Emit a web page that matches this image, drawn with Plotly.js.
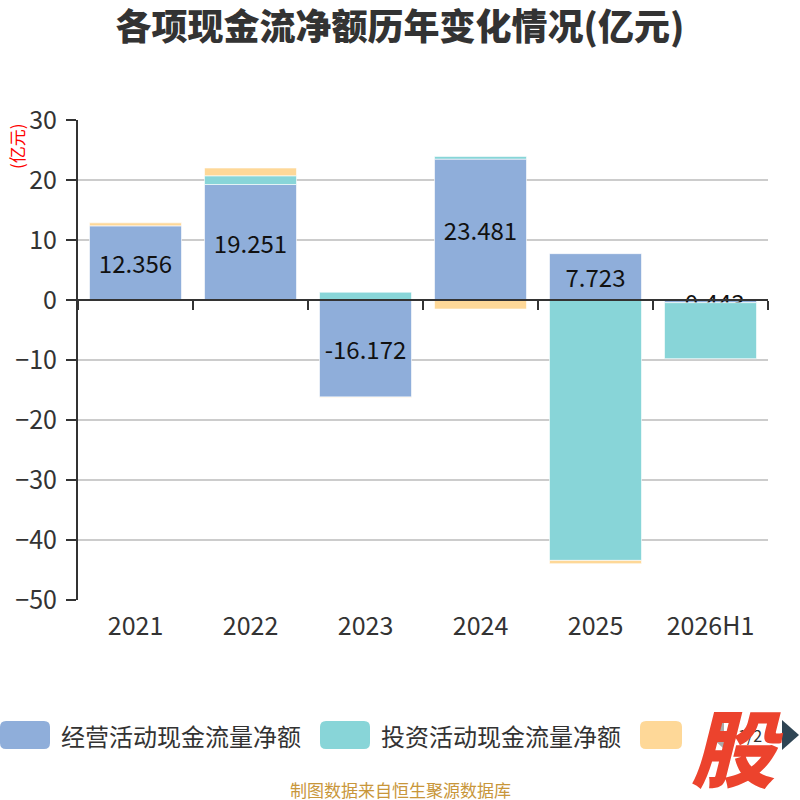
<!DOCTYPE html>
<html>
<head>
<meta charset="utf-8">
<script src="https://cdn.plot.ly/plotly-3.0.1.min.js"></script>
<style>
  html, body { margin: 0; padding: 0; background: #fff; }
  #plt { width: 800px; height: 800px; }
</style>
</head>
<body>
<div id="plt"></div>
<script>
var years = ['2021', '2022', '2023', '2024', '2025', '2026H1'];
var operating = [12.356, 19.251, -16.172, 23.481, 7.723, -0.443];
var investing = [-0.15, 1.45, 1.3, 0.45, -43.4, -9.34];
var financing = [0.5, 1.3, -0.08, -1.5, -0.55, 0];
var names = ['经营活动现金流量净额', '投资活动现金流量净额', '筹资活动现金流量净额'];
var colors = ['#8FAEDA', '#88D5D8', '#FED898'];
var yTicks = [-50, -40, -30, -20, -10, 0, 10, 20, 30];

var font = '"Noto Sans CJK SC", "Noto Sans", sans-serif';

// plot area in pixels, used to place the hand made legend
var L = 78, R = 768, T = 120, B = 600;
function px(x){ return (x - L) / (R - L); }
function py(y){ return (B - y) / (B - T); }

function round_rect(x0, y0, x1, y1, r){
    var p = function(x, y){ return px(x) + ',' + py(y); };
    return 'M' + p(x0 + r, y0) + ' L' + p(x1 - r, y0) +
        ' Q' + p(x1, y0) + ' ' + p(x1, y0 + r) +
        ' L' + p(x1, y1 - r) + ' Q' + p(x1, y1) + ' ' + p(x1 - r, y1) +
        ' L' + p(x0 + r, y1) + ' Q' + p(x0, y1) + ' ' + p(x0, y1 - r) +
        ' L' + p(x0, y0 + r) + ' Q' + p(x0, y0) + ' ' + p(x0 + r, y0) + ' Z';
}

function bar(vals, i, withText){
    var t = {
        type: 'bar',
        name: names[i],
        x: years,
        y: vals,
        xaxis: 'x',
        yaxis: 'y',
        marker: { color: colors[i], line: { width: 1, color: 'rgba(255,255,255,0.6)' } },
        hoverinfo: 'x+y+name',
        showlegend: false
    };
    if (withText){
        t.text = vals.map(v => v.toFixed(3));
        t.textposition = 'inside';
        t.insidetextanchor = 'middle';
        t.constraintext = 'none';
        t.textangle = 0;
        t.textfont = { family: font, size: 24, color: '#111' };
    }
    return t;
}

var traces = [
    bar(operating, 0, true),
    bar(investing, 1, false),
    bar(financing, 2, false),
    // carries the category labels for the bottom axis
    { type: 'scatter', mode: 'markers', x: years, y: years.map(_ => null),
      xaxis: 'x2', yaxis: 'y', hoverinfo: 'skip', showlegend: false }
];

var shapes = [];
var annotations = [];

// legend
var legendX = [0, 320, 640];
legendX.forEach((x, i) => {
    shapes.push({
        type: 'path', xref: 'paper', yref: 'paper',
        path: round_rect(x, 721, i == 2 ? 682 : x + 50, 749, 6),
        fillcolor: colors[i], line: { width: 0 }
    });
    if (i < 2){
        annotations.push({
            xref: 'paper', yref: 'paper', x: px(x + 59), y: py(735),
            xanchor: 'left', yanchor: 'middle', showarrow: false,
            text: names[i], font: { family: font, size: 24, color: '#333' }
        });
    }
});
// legend page controls
shapes.push({
    type: 'path', xref: 'paper', yref: 'paper',
    path: 'M' + px(724) + ',' + py(721) + ' L' + px(724) + ',' + py(749) +
        ' L' + px(709) + ',' + py(735) + ' Z',
    fillcolor: '#aaa', line: { width: 0 }
});
shapes.push({
    type: 'path', xref: 'paper', yref: 'paper',
    path: 'M' + px(782) + ',' + py(720) + ' L' + px(782) + ',' + py(750) +
        ' L' + px(799) + ',' + py(735) + ' Z',
    fillcolor: '#2f4554', line: { width: 0 }
});
annotations.push({
    xref: 'paper', yref: 'paper', x: px(750), y: py(735),
    xanchor: 'center', yanchor: 'middle', showarrow: false,
    text: '1/2', font: { family: font, size: 16, color: '#333' }
});

// watermark
annotations.push({
    xref: 'paper', yref: 'paper', x: px(737), y: py(744),
    xanchor: 'center', yanchor: 'middle', showarrow: false,
    text: '股', font: { family: font, size: 84, color: '#EC432D', weight: 900, style: 'italic' }
});

// unit label
annotations.push({
    xref: 'paper', yref: 'paper', x: px(16), y: py(146),
    xanchor: 'center', yanchor: 'middle', showarrow: false, textangle: -90,
    text: '(亿元)', font: { family: font, size: 17, color: '#ff0000' }
});

// source
annotations.push({
    xref: 'paper', yref: 'paper', x: px(400), y: py(789),
    xanchor: 'center', yanchor: 'middle', showarrow: false,
    text: '制图数据来自恒生聚源数据库', font: { family: font, size: 17, color: '#C8963A' }
});

var layout = {
    width: 800,
    height: 800,
    margin: { l: L, r: 800 - R, t: T, b: 800 - B },
    paper_bgcolor: '#fff',
    plot_bgcolor: '#fff',
    barmode: 'relative',
    bargap: 0.2,
    font: { family: font, color: '#333' },
    title: {
        text: '各项现金流净额历年变化情况(亿元)',
        x: 0.5, xref: 'container', xanchor: 'center',
        y: 1 - 27 / 800, yref: 'container', yanchor: 'middle',
        font: { family: font, size: 36, color: '#333', weight: 900 }
    },
    xaxis: {
        type: 'category',
        categoryarray: years,
        range: [-0.5, years.length - 0.5],
        anchor: 'free',
        position: py(300),
        showline: true, linecolor: '#333', linewidth: 2,
        ticks: 'outside', tickson: 'boundaries', ticklen: 9, tickwidth: 2, tickcolor: '#333',
        showticklabels: false,
        showgrid: false, zeroline: false,
        fixedrange: true
    },
    xaxis2: {
        type: 'category',
        categoryarray: years,
        range: [-0.5, years.length - 0.5],
        overlaying: 'x',
        anchor: 'y',
        side: 'bottom',
        showline: false, ticks: '', showgrid: false, zeroline: false,
        ticklabelstandoff: 9,
        tickfont: { family: font, size: 25, color: '#333' },
        fixedrange: true
    },
    yaxis: {
        range: [-50, 30],
        tickvals: yTicks,
        showline: true, linecolor: '#333', linewidth: 2,
        ticks: 'outside', ticklen: 10, tickwidth: 2, tickcolor: '#333',
        ticklabelstandoff: 4,
        tickfont: { family: font, size: 25, color: '#333' },
        showgrid: true, gridcolor: '#ccc', gridwidth: 1.5,
        zeroline: false,
        fixedrange: true
    },
    shapes: shapes,
    annotations: annotations
};

Plotly.newPlot('plt', traces, layout, { displayModeBar: false, staticPlot: true });
</script>
</body>
</html>
